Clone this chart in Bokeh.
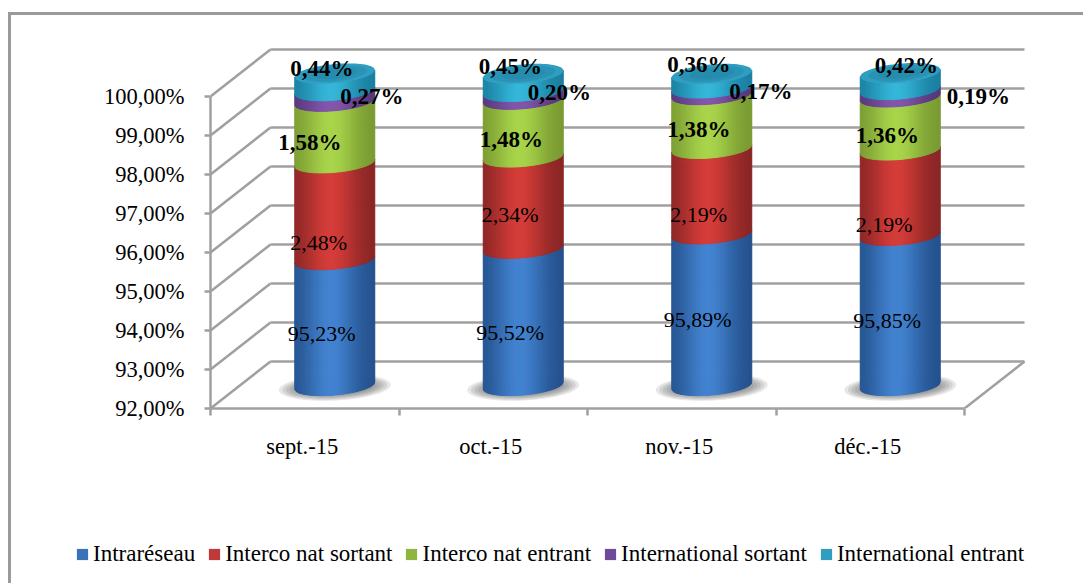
import numpy as np
from bokeh.core.properties import value
from bokeh.embed import file_html
from bokeh.layouts import column
from bokeh.models import FixedTicker, Legend, LegendItem, LinearAxis, Range1d
from bokeh.plotting import figure
from bokeh.resources import INLINE

# ---- data ----
months = ["sept.-15", "oct.-15", "nov.-15", "déc.-15"]
series_names = ["Intraréseau", "Interco nat sortant", "Interco nat entrant",
                "International sortant", "International entrant"]
intrareseau = [95.23, 95.52, 95.89, 95.85]
interco_sortant = [2.48, 2.34, 2.19, 2.19]
interco_entrant = [1.58, 1.48, 1.38, 1.36]
inter_sortant = [0.27, 0.20, 0.17, 0.19]
inter_entrant = [0.44, 0.45, 0.36, 0.42]
y_ticks = [92, 93, 94, 95, 96, 97, 98, 99, 100]

series = [intrareseau, interco_sortant, interco_entrant, inter_sortant, inter_entrant]

# ---- layout (pixels) ----
ORG_X, ORG_Y = 11, 15      # where the canvas starts in the window
W = 1083 - ORG_X
F_L, F_R, F_T, F_B = 210 - ORG_X, 1030 - ORG_X, 46 - ORG_Y, 408 - ORG_Y
BOTTOM = 70                # room under the frame for the month labels
LEG_H = 583 - ORG_Y - F_B - BOTTOM
PX_X = 188.5   # px per category
PX_Y = 39.0    # px per percent
BACK_DX, BACK_DY = 60, 47
CYL_DX, CYL_DY = 30, 23
A, B, TILT = 40, 9.5, 3.5
Y0 = 92

# shading: (edge colour, centre colour)
shades = [((34, 78, 136), (66, 130, 208)),
          ((132, 36, 36), (212, 60, 56)),
          ((118, 150, 48), (168, 212, 74)),
          ((84, 52, 120), (130, 86, 172)),
          ((24, 122, 156), (52, 182, 216))]
legend_colors = ["#3a72b8", "#c0393a", "#8fb43f", "#6f4a9a", "#2f9fc0"]
GRID = "#a0a0a0"
FONT = "Liberation Serif"

# label offsets from the middle of each segment, px (row per series, col per month)
lab_dx = [[-13, -13, -14, -13], [-16, -13, -13, -16], [-25, -12, -13, -13],
          [37, 36, 49, 78], [-13, -13, -13, 6]]
lab_dy = [[11, 16, 10, 10], [31, 12, 23, 32], [10.5, 11, 8, 12],
          [1, -3, 0, 3], [-14, -16, -16, -16]]
lab_bold = [False, False, True, True, True]

p = figure(frame_width=F_R - F_L, frame_height=F_B - F_T,
           output_backend="svg", toolbar_location=None,
           x_range=Range1d(0, (F_R - F_L) / PX_X),
           y_range=Range1d(Y0, Y0 + (F_B - F_T) / PX_Y),
           min_border_left=F_L, min_border_right=W - F_R,
           min_border_top=F_T, min_border_bottom=BOTTOM,
           x_axis_type=None, y_axis_type=None, outline_line_color=None,
           margin=0)
p.grid.visible = False
p.background_fill_color = "white"

bx = BACK_DX / PX_X
by = BACK_DY / PX_Y
x_back_end = bx + len(months)

# walls
p.segment([bx] * len(y_ticks), [t + by for t in y_ticks], [x_back_end] * len(y_ticks),
          [t + by for t in y_ticks], line_color=GRID, line_width=2.5)
p.segment([0] * len(y_ticks), y_ticks, [bx] * len(y_ticks), [t + by for t in y_ticks],
          line_color=GRID, line_width=2.5)
p.segment([len(months)], [Y0], [x_back_end], [Y0 + by], line_color=GRID, line_width=2.5)

# shadows
for i in range(len(months)):
    cx = i + 0.5 + CYL_DX / PX_X
    cy = Y0 + 21 / PX_Y
    for k in range(6):
        p.ellipse([cx], [cy], width=[112 - k * 7], height=[26 - k * 2.2],
                  width_units="screen", height_units="screen", angle=0.05,
                  fill_color="#555555", fill_alpha=0.14, line_color=None)


def lerp(c0, c1, t):
    return "#%02x%02x%02x" % tuple(int(round(a + (b - a) * t)) for a, b in zip(c0, c1))


def rim(u):
    """Front rim of a tilted ellipse, in px above (+) the ellipse centre."""
    return -B * np.sqrt(np.clip(1 - u * u, 0, 1)) + TILT * u


N = 80
edges = np.linspace(-1, 1, N + 1)
for i in range(len(months)):
    cx = i + 0.5 + CYL_DX / PX_X
    off = CYL_DY / PX_Y
    base = Y0
    for s, vals in enumerate(series):
        top = base + vals[i] - (Y0 if s == 0 else 0)
        xs, ys, cols = [], [], []
        for u0, u1 in zip(edges[:-1], edges[1:]):
            um = (u0 + u1) / 2
            t = np.exp(-((um + 0.08) / 0.66) ** 2)
            cols.append(lerp(shades[s][0], shades[s][1], t))
            x0, x1 = cx + u0 * A / PX_X, cx + u1 * A / PX_X
            xs.append([x0, x1, x1, x0])
            ys.append([base + off + rim(u0) / PX_Y, base + off + rim(u1) / PX_Y,
                       top + off + rim(u1) / PX_Y, top + off + rim(u0) / PX_Y])
        p.patches(xs, ys, fill_color=cols, line_color=cols, line_width=1)
        base = top
    # top cap
    t = np.linspace(0, 2 * np.pi, 80)
    ux = np.cos(t)
    for scale, col in [(1.0, "#2f9ec0"), (0.8, "#2a93b5"), (0.55, "#268cae")]:
        p.patch(cx + scale * ux * A / PX_X,
                base + off + scale * (B * np.sin(t) + TILT * ux) / PX_Y,
                fill_color=col, line_color=None)

# data labels
for s, vals in enumerate(series):
    base_list = [Y0 if s == 0 else sum(series[k][i] for k in range(s)) for i in range(len(months))]
    for i, v in enumerate(vals):
        lo = base_list[i]
        hi = (lo + v - Y0) if s == 0 else (lo + v)
        mid = (lo + hi) / 2
        txt = ("%.2f%%" % v).replace(".", ",")
        p.text([i + 0.5 + CYL_DX / PX_X], [mid + CYL_DY / PX_Y], text=[txt],
               x_offset=lab_dx[s][i], y_offset=lab_dy[s][i],
               text_align="center", text_baseline="middle",
               text_font=value(FONT), text_color="#000000",
               text_font_size="23px" if lab_bold[s] else "22px",
               text_font_style="bold" if lab_bold[s] else "normal")

# axes
yax = LinearAxis(ticker=FixedTicker(ticks=y_ticks), bounds=(92, 100),
                 major_label_overrides={t: "%d,00%%" % t for t in y_ticks},
                 axis_line_color=GRID, axis_line_width=2.5,
                 major_tick_line_color=GRID, major_tick_line_width=2.5,
                 major_tick_in=0, major_tick_out=6, minor_tick_line_color=None,
                 major_label_standoff=20, major_label_text_font=FONT,
                 major_label_text_font_size="22.5px", major_label_text_color="#000000")
p.add_layout(yax, "left")

xticks = list(range(len(months) + 1))
xax = LinearAxis(ticker=FixedTicker(ticks=xticks), bounds=(0, len(months)),
                 major_label_overrides={t: "" for t in xticks},
                 axis_line_color=GRID, axis_line_width=2.5,
                 major_tick_line_color=GRID, major_tick_line_width=2.5,
                 major_tick_in=0, major_tick_out=7, minor_tick_line_color=None,
                 major_label_standoff=0)
p.add_layout(xax, "below")

centers = [i + 0.5 - 2.5 / PX_X for i in range(len(months))]
xlab = LinearAxis(ticker=FixedTicker(ticks=centers),
                  major_label_overrides={c: m for c, m in zip(centers, months)},
                  axis_line_color=None, major_tick_line_color=None, minor_tick_line_color=None,
                  major_label_standoff=12, major_label_text_font=FONT,
                  major_label_text_font_size="22.5px", major_label_text_color="#000000")
p.add_layout(xlab, "below")

# legend, in a strip of its own under the plot
q = figure(frame_width=W, frame_height=LEG_H, output_backend="svg", toolbar_location=None,
           x_range=Range1d(0, 1), y_range=Range1d(0, 1),
           min_border=0, x_axis_type=None, y_axis_type=None,
           outline_line_color=None, margin=0)
q.grid.visible = False
items = []
for name, col in zip(series_names, legend_colors):
    r = q.quad(left=[np.nan], right=[np.nan], top=[np.nan], bottom=[np.nan],
               fill_color=col, line_color=None)
    items.append(LegendItem(label=name, renderers=[r]))
leg = Legend(items=items, orientation="horizontal", location=(64, 16),
             glyph_width=14, glyph_height=14, label_standoff=4, spacing=12,
             padding=0, margin=0, border_line_color=None, background_fill_alpha=0,
             label_text_font=FONT, label_text_font_size="23px", label_text_color="#000000",
             label_height=14)
q.add_layout(leg, "center")

page = column(p, q, spacing=0, margin=(12, 0, 0, 8),
              styles={"border-left": "3px solid #9a9a9a", "border-top": "3px solid #9a9a9a"})

open("out.html", "w").write(file_html(page, INLINE))
